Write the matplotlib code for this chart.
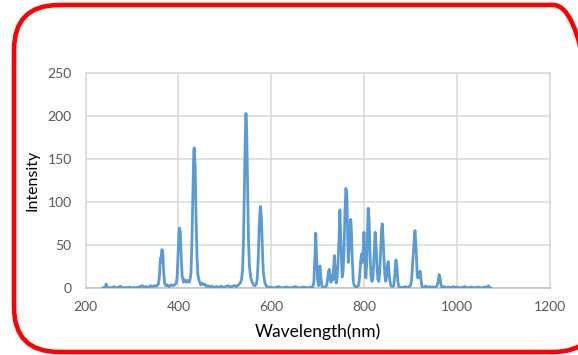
import matplotlib.pyplot as plt
from matplotlib.patches import FancyBboxPatch

# spectrum
wavelength = [
    237, 240, 242, 244, 246, 249, 253, 257, 261, 265, 270, 275, 279, 284, 289,
    294, 299, 304, 309, 314, 318, 322, 326, 330, 335, 340, 345, 349, 353, 355,
    357, 359, 361, 362, 364, 366, 368, 370, 373, 376, 380, 384, 388, 392, 395,
    397, 399, 401, 402, 404, 406, 408, 411, 414, 417, 420, 423, 425, 427, 429,
    431, 433, 434, 436, 438, 440, 442, 445, 448, 451, 454, 457, 460, 464, 468,
    472, 477, 482, 487, 492, 497, 502, 507, 512, 517, 521, 525, 528, 530, 533,
    536, 538, 540, 542, 544, 545.5, 547, 549, 551, 553, 556, 559, 562, 565, 568,
    570, 572, 574, 576, 577, 579, 581, 583, 586, 589, 593, 598, 604, 610, 616,
    622, 628, 634, 640, 646, 652, 658, 664, 670, 676, 682, 686, 690, 692, 694,
    696, 698, 700, 702, 704, 705, 707, 709, 712, 716, 719, 721, 723, 725, 727,
    729, 731, 733, 735, 736, 738, 740, 742, 744, 746, 748, 750, 752, 753, 755,
    757, 759, 761, 763, 765, 766, 768, 770, 771.5, 773, 775, 777, 779, 782, 785,
    788, 790, 792, 794, 795, 797, 799, 800, 802, 804, 806, 808, 809, 811, 813,
    815, 817, 819, 821, 823, 824, 826, 828, 830, 832, 834, 836, 838, 839.5, 841,
    843, 845, 847, 849, 851, 852.5, 854, 856, 858, 861, 864, 866, 868, 869, 871,
    873, 875, 879, 884, 889, 894, 898, 901, 903, 905, 907, 909, 910, 912, 914,
    915, 917, 919, 921, 923, 925, 929, 933, 937, 941, 945, 949, 953, 956, 958,
    960, 962, 964, 966, 968, 972, 977, 982, 987, 992, 997, 1002, 1007, 1012, 1017,
    1022, 1027, 1032, 1037, 1042, 1047, 1052, 1057, 1062, 1066, 1068, 1070, 1073,
]
intensity = [
    0.5, 1, 0.5, 5, 1, 0.5, 1, 0.5, 2, 0.5, 1, 2.5, 0.5, 1, 0.5,
    1.5, 0.5, 1, 0.5, 1.5, 2, 3, 1.5, 2, 1, 3, 2, 3, 2.5, 4,
    5, 15, 35, 30, 45, 44, 20, 6, 3, 4, 2, 4, 3, 4, 6,
    12, 40, 65, 70, 66, 35, 14, 7, 10, 7, 9, 7, 10, 18, 55,
    110, 160, 163, 140, 80, 35, 15, 8, 4, 6, 4, 5, 2, 3, 1.5,
    2.5, 1, 2, 1, 2.5, 1, 2, 3, 1.5, 2.5, 3, 2, 3.5, 4, 6,
    10, 20, 50, 110, 175, 203, 185, 120, 55, 25, 12, 7, 4, 3, 5,
    12, 35, 70, 93, 95, 80, 45, 18, 7, 3, 1, 1.5, 0.5, 1, 2,
    0.5, 1, 1.5, 0.5, 1, 2, 0.5, 1, 1.5, 0.5, 1, 1.5, 2, 8, 35,
    64, 35, 10, 3, 15, 26, 12, 3, 1, 1, 3, 8, 18, 22, 12,
    7, 15, 10, 28, 38, 20, 6, 12, 30, 55, 91, 60, 25, 13, 20,
    45, 90, 116, 110, 60, 30, 45, 70, 80, 65, 30, 8, 3, 2, 2,
    3, 10, 25, 38, 40, 30, 55, 65, 35, 12, 30, 75, 93, 80, 40,
    15, 8, 10, 30, 55, 65, 50, 25, 10, 8, 20, 45, 70, 75, 60,
    35, 15, 8, 15, 28, 31, 18, 8, 3, 2, 3, 12, 28, 33, 25,
    8, 2, 1, 1, 2, 1, 2, 4, 12, 30, 45, 62, 67, 50, 25,
    13, 12, 17, 20, 10, 2, 1, 2.5, 1, 2, 1, 1.5, 1, 2, 4,
    8, 16, 12, 4, 1, 2, 1, 1.5, 0.5, 2, 1, 1.5, 0.5, 1, 2,
    0.5, 1, 1.5, 0.5, 1, 1.5, 0.5, 1, 1.5, 1, 3, 1, 0.5,
]

xticks = [200, 400, 600, 800, 1000, 1200]
yticks = [0, 50, 100, 150, 200, 250]

plt.rcParams['font.family'] = ['Lato', 'DejaVu Sans']

fig = plt.figure(figsize=(5.78, 3.55), dpi=100)
ax = fig.add_axes([0.1483, 0.1879, 0.8024, 0.6065])

ax.plot(wavelength, intensity, color='#5B9BD5', linewidth=2.0,
        solid_joinstyle='round', zorder=3)

ax.set_xlim(200, 1200)
ax.set_ylim(0, 250)
ax.set_xticks(xticks)
ax.set_yticks(yticks)
ax.grid(True, color='#D9D9D9', linewidth=1.1)
ax.set_axisbelow(True)
for s in ax.spines.values():
    s.set_color('#D9D9D9')
    s.set_linewidth(1.1)
ax.spines['bottom'].set_color('#BFBFBF')
ax.tick_params(length=0, labelsize=10, labelcolor='#595959')
ax.tick_params(axis='y', pad=10)
ax.tick_params(axis='x', pad=9)

ax.set_xlabel('Wavelength(nm)', fontsize=12.5, color='black', labelpad=8)
ax.set_ylabel('Intensity', fontsize=11.5, color='black', labelpad=6)

# red rounded frame, right side runs past the image edge
frame = FancyBboxPatch((0.14, 0.03), 5.84, 3.47,
                       boxstyle='round,pad=0,rounding_size=0.45',
                       transform=fig.dpi_scale_trans, fill=False,
                       edgecolor='#FF0000', linewidth=3.3, clip_on=False)
fig.add_artist(frame)

fig.savefig('out.png', dpi=100)
